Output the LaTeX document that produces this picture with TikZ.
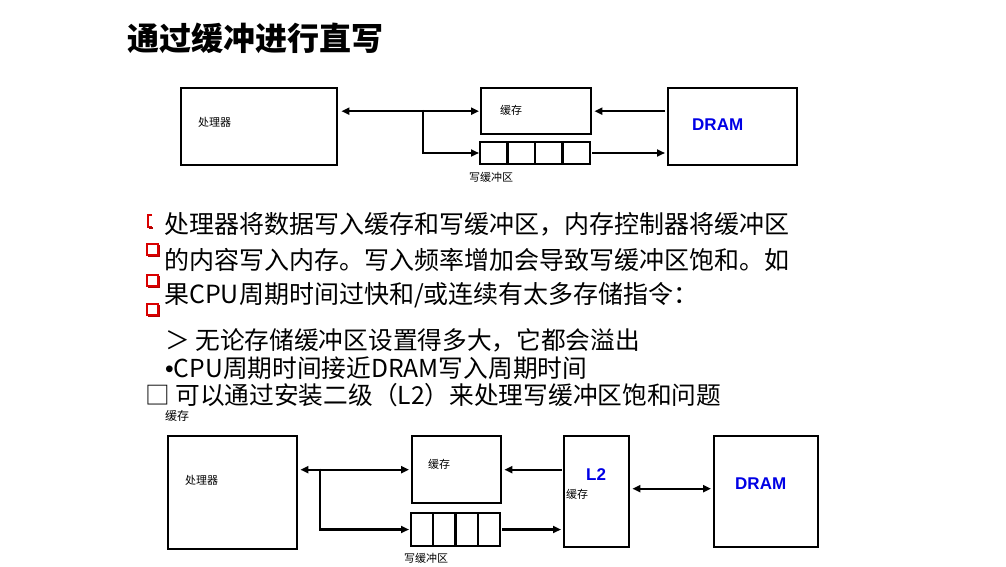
\documentclass[tikz,border=0pt]{standalone}
\usepackage{fontspec}
\setmainfont{Noto Sans CJK SC}
\newfontfamily\labelfont{Liberation Sans}
\usetikzlibrary{arrows.meta, positioning}

\begin{document}
\begin{tikzpicture}[x=1pt, y=-1pt,
    box/.style={draw, line width=2.4pt, anchor=north west, inner sep=0},
    cell/.style={draw, line width=2.4pt, inner sep=0, outer sep=0},
    lbl/.style={font=\fontsize{11}{13}\selectfont, inner sep=0, anchor=west},
    bluetxt/.style={font=\labelfont\bfseries\fontsize{17}{19}\selectfont, text=blue!90!black, inner sep=0, anchor=west},
    txt/.style={font=\fontsize{25}{28}\selectfont, inner sep=0, anchor=west},
    sub/.style={font=\fontsize{24.7}{27}\selectfont, inner sep=0, anchor=west},
    arr/.style={line width=2.4pt, -{Triangle[length=8pt,width=7pt]}},
    dbl/.style={line width=2.4pt, {Triangle[length=8pt,width=7pt]}-{Triangle[length=8pt,width=7pt]}},
    redbox/.style={draw=red!85!black, line width=1.1pt}]
    \useasboundingbox (0,0) rectangle (1006,567);

    % title
    \node[font=\bfseries\fontsize{32}{36}\selectfont, inner sep=0, anchor=west] (title) at (127,38) {通过缓冲进行直写};

    % top diagram
    \node[box, minimum width=156pt, minimum height=77pt] (cpu) at (180,87) {};
    \node[lbl] (cpul) at (198,122) {处理器};
    \node[box, minimum width=110pt, minimum height=46pt] (cache) at (480,87) {};
    \node[lbl] (cachel) at (500,110) {缓存};
    \node[box, minimum width=129pt, minimum height=77pt] (dram) at (667,87) {};
    \node[bluetxt] (draml) at (692,125) {DRAM};
    \node[cell, minimum width=27.5pt, minimum height=22pt, anchor=north west] (wb0) at (480,142) {};
    \foreach \x [evaluate = \x as \xp using int(\x-1)] in {1, ..., 3}
        \node[cell, minimum width=27.5pt, minimum height=22pt, right=0 of wb\xp] (wb\x) {};
    \node[lbl] (wbl) at (469,177) {写缓冲区};

    \coordinate (br) at (423,110);
    \draw[dbl, shorten <=3pt, shorten >=1pt] (cpu.east |- cache.west) -- (cache.west);
    \draw[arr, shorten >=1pt] (br) |- (wb0.west);
    \draw[arr, shorten <=2pt, shorten >=2pt] (dram.west |- cache.east) -- (cache.east);
    \draw[arr, shorten <=2pt, shorten >=2pt] (wb3.east) -- (dram.west |- wb3.east);

    % markers
    \draw[redbox] (152,215) -- (148,215) -- (148,227) -- (152,227);
    \draw[red!70!black, line width=1.6pt] (149,228) -- (153,228);
    \foreach \y in {250, 281, 310}{
        \draw[redbox] (147,\y-6) rectangle (158,\y+5);
        \draw[red!70!black, line width=1.8pt] (148,\y+6.5) -- (159.5,\y+6.5) -- (159.5,\y-5);
    }

    % text
    \node[txt] (t1) at (164,224) {处理器将数据写入缓存和写缓冲区，内存控制器将缓冲区};
    \node[txt] (t2) at (164,260) {的内容写入内存。写入频率增加会导致写缓冲区饱和。如};
    \node[txt] (t3) at (164,295) {果CPU周期时间过快和/或连续有太多存储指令：};
    \node[sub] (t4) at (165,340) {＞ 无论存储缓冲区设置得多大，它都会溢出};
    \node[sub] (t5) at (165,368) {{\labelfont •}CPU周期时间接近DRAM写入周期时间};
    \node[sub] (t6) at (145,395) {□ 可以通过安装二级（L2）来处理写缓冲区饱和问题};
    \node[lbl, font=\fontsize{12}{14}\selectfont] (t7) at (165,416) {缓存};

    % bottom diagram
    \node[box, minimum width=129pt, minimum height=113pt] (cpu2) at (167,435) {};
    \node[lbl] (cpu2l) at (185,480) {处理器};
    \node[box, minimum width=89pt, minimum height=67pt] (cache2) at (411,435) {};
    \node[lbl] (cache2l) at (428,464) {缓存};
    \node[box, minimum width=65pt, minimum height=111pt] (l2) at (563,435) {};
    \node[bluetxt] (l2l) at (586,475) {L2};
    \node[lbl] (l2c) at (566,494) {缓存};
    \node[box, minimum width=104pt, minimum height=111pt] (dram2) at (713,435) {};
    \node[bluetxt] (dram2l) at (735,484) {DRAM};
    \node[cell, minimum width=22.25pt, minimum height=33pt, anchor=north west] (bb0) at (411,513) {};
    \foreach \x [evaluate = \x as \xp using int(\x-1)] in {1, ..., 3}
        \node[cell, minimum width=22.25pt, minimum height=33pt, right=0 of bb\xp] (bb\x) {};
    \node[lbl] (bbl) at (404,558) {写缓冲区};

    \coordinate (br2) at (320,468.5);
    \draw[dbl, shorten <=2pt, shorten >=2pt] (cpu2.east |- cache2.west) -- (cache2.west);
    \draw[arr, shorten >=2pt] (br2) |- (bb0.west);
    \draw[arr, shorten <=1pt, shorten >=2pt] (l2.west |- cache2.east) -- (cache2.east);
    \draw[arr, shorten <=2pt, shorten >=2pt] (bb3.east) -- (l2.west |- bb3.east);
    \draw[dbl, shorten <=2pt, shorten >=2pt] ([yshift=3pt]l2.east) -- ([yshift=3pt]dram2.west);
\end{tikzpicture}
\end{document}
